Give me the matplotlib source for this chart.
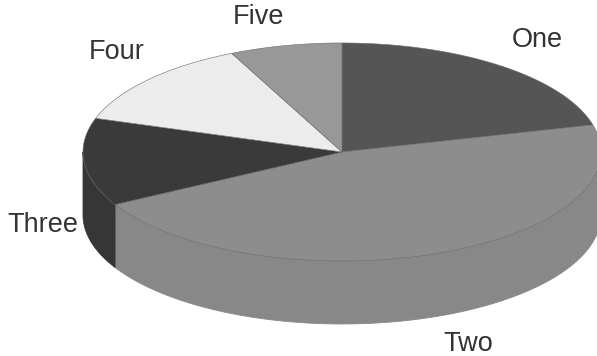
import numpy as np
import matplotlib
matplotlib.use("Agg")
import matplotlib.pyplot as plt
from matplotlib.patches import Polygon

# Slice data
categories = ["One", "Two", "Three", "Four", "Five"]
values = [21, 46, 13, 13, 7]
top_colors = ["#555555", "#8d8d8d", "#3a3a3a", "#ececec", "#989898"]
side_colors = ["#4c4c4c", "#888888", "#363636", "#d8d8d8", "#8e8e8e"]

# Pie geometry (units of the horizontal radius)
tilt = 0.421      # vertical squash of the top ellipse
depth = 0.243     # thickness of the pie
start_angle = 90.0

fig = plt.figure(figsize=(5.97, 3.56), dpi=100)
ax = fig.add_axes([0, 0, 1, 1])
ax.set_xlim(-342 / 259, 255 / 259)
ax.set_ylim((152 - 356) / 259, 152 / 259)
ax.set_aspect("equal")
ax.axis("off")

fracs = np.array(values, dtype=float) / sum(values)
bounds = start_angle - np.concatenate([[0], np.cumsum(fracs) * 360.0])


def arc(a0, a1, n=120):
    t = np.radians(np.linspace(a0, a1, n))
    return np.cos(t), tilt * np.sin(t)


# Front side walls (only the part of each slice facing the viewer)
for i in range(len(values)):
    a_start, a_end = bounds[i], bounds[i + 1]
    for kk in (-1, 0, 1):
        lo = max(a_end, -180 + 360 * kk)
        hi = min(a_start, 360 * kk)
        if hi - lo <= 0:
            continue
        x, y = arc(hi, lo)
        pts = np.vstack([np.column_stack([x, y]),
                         np.column_stack([x[::-1], y[::-1] - depth])])
        ax.add_patch(Polygon(pts, closed=True, facecolor=side_colors[i],
                             edgecolor=side_colors[i], linewidth=0.6, zorder=1))

# Top faces
for i in range(len(values)):
    x, y = arc(bounds[i], bounds[i + 1])
    pts = np.vstack([[0, 0], np.column_stack([x, y])])
    ax.add_patch(Polygon(pts, closed=True, facecolor=top_colors[i],
                         edgecolor="#6a6a6a", linewidth=0.4, zorder=2))

# Category labels
label_pos = {
    "One": (0.753, 0.432, "center"),
    "Two": (0.486, -0.741, "center"),
    "Three": (-1.019, -0.282, "right"),
    "Four": (-0.869, 0.386, "center"),
    "Five": (-0.324, 0.521, "center"),
}
for name in categories:
    lx, ly, ha = label_pos[name]
    ax.text(lx, ly, name, ha=ha, va="center", fontsize=19.5,
            family="Liberation Sans", color="#333333", zorder=3)

fig.savefig("out.png", dpi=100)
